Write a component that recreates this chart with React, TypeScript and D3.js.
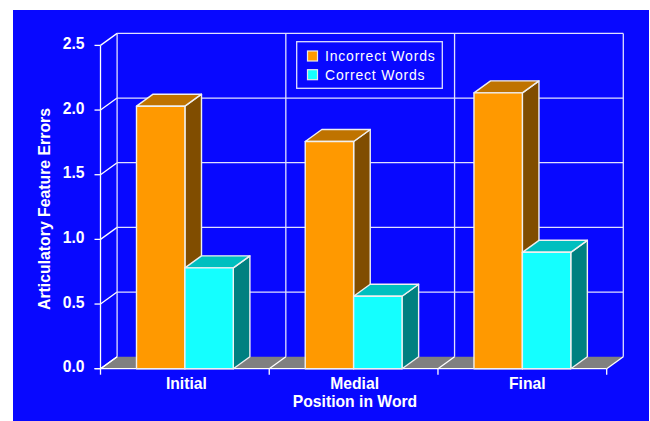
import React from "react";
import * as d3 from "d3";

const categories = ["Initial", "Medial", "Final"];
const categoryLabelShift = [1.5, 1, 5];
const seriesNames = ["Incorrect Words", "Correct Words"];
const incorrectWords = [2.03, 1.757, 2.133];
const correctWords = [0.78, 0.56, 0.9];
const yTicks = [0, 0.5, 1, 1.5, 2, 2.5];

const frontColors = ["#ff9900", "#14ffff"];
const topColors = ["#bf7300", "#00bfbf"];
const sideColors = ["#804d00", "#008080"];
const BLUE = "#0808ff";
const LINE = "#e0e0ff";

const DX = 16.6;
const DY = -12;

const x = d3.scaleBand<string>().domain(categories).range([100.5, 606.7]).paddingInner(0).paddingOuter(0);
const y = d3.scaleLinear().domain([0, 2.5]).range([368.7, 45.4]);
const barX = d3.scaleBand<string>().domain(seriesNames).range([36, 132.8]);

const font = "'Liberation Sans', Arial, Helvetica, sans-serif";
const poly = (pts: [number, number][]) => pts.map((p) => p.join(",")).join(" ");

export default function App() {
  const [x0, x1] = x.range();
  const boundaries = [...categories.map((c) => x(c) as number), x1];
  const y0 = y(0);
  return (
    <svg width={650} height={421} style={{ position: "absolute", left: 0, top: 0 }}>
      <rect x={13} y={10} width={636} height={411} fill={BLUE} />

      {/* floor */}
      <polygon points={poly([[x0, y0], [x1, y0], [x1 + DX, y0 + DY], [x0 + DX, y0 + DY]])} fill="#808080" />

      {/* back wall grid and side wall ticks */}
      {yTicks.map((t) => (
        <g key={t} stroke={LINE} fill="none" strokeWidth={1.3}>
          {t > 0 && <line x1={x0 + DX} x2={x1 + DX} y1={y(t) + DY} y2={y(t) + DY} />}
          <line x1={x0} x2={x0 + DX} y1={y(t)} y2={y(t) + DY} stroke="#fff" />
          <line x1={x0 - 6} x2={x0} y1={y(t)} y2={y(t)} stroke="#fff" />
        </g>
      ))}
      {boundaries.map((b, i) => (
        <g key={i} fill="none" strokeWidth={1.3}>
          <line x1={b + DX} x2={b + DX} y1={y(2.5) + DY} y2={y0 + DY} stroke={LINE} />
          <line x1={b} x2={b + DX} y1={y0} y2={y0 + DY} stroke="#fff" />
          <line x1={b} x2={b} y1={y0} y2={y0 + 6} stroke="#fff" />
        </g>
      ))}
      <line x1={x0} x2={x0} y1={y(2.5)} y2={y0} stroke="#fff" strokeWidth={1.3} />
      <line x1={x0 - 6} x2={x1} y1={y0} y2={y0} stroke="#fff" strokeWidth={1.3} />

      {/* bars, drawn left to right so neighbours overlap correctly */}
      {categories.map((c, ci) =>
        [incorrectWords[ci], correctWords[ci]].map((v, si) => {
          const left = (x(c) as number) + (barX(seriesNames[si]) as number);
          const right = left + barX.bandwidth();
          const top = y(v);
          return (
            <g key={c + si} stroke="#f0f0f0" strokeWidth={1.4} strokeLinejoin="round">
              <polygon points={poly([[right, top], [right + DX, top + DY], [right + DX, y0 + DY], [right, y0]])} fill={sideColors[si]} />
              <polygon points={poly([[left, top], [left + DX, top + DY], [right + DX, top + DY], [right, top]])} fill={topColors[si]} />
              <rect x={left} y={top} width={right - left} height={y0 - top} fill={frontColors[si]} />
            </g>
          );
        })
      )}

      {/* value axis labels */}
      {yTicks.map((t) => (
        <text key={t} x={84.5} y={y(t) + 3.6} textAnchor="end" fill="#fff" fontFamily={font} fontWeight="bold" fontSize={15.7}>
          {d3.format(".1f")(t)}
        </text>
      ))}
      <text transform="translate(50,209) rotate(-90)" textAnchor="middle" fill="#fff" fontFamily={font} fontWeight="bold" fontSize={15.8}>
        Articulatory Feature Errors
      </text>

      {/* category labels */}
      {categories.map((c, i) => (
        <text key={c} x={(x(c) as number) + x.bandwidth() / 2 + categoryLabelShift[i]} y={389.3} textAnchor="middle" fill="#fff" fontFamily={font} fontWeight="bold" fontSize={15.7}>
          {c}
        </text>
      ))}
      <text x={355} y={407.3} textAnchor="middle" fill="#fff" fontFamily={font} fontWeight="bold" fontSize={15.7}>
        Position in Word
      </text>

      {/* legend */}
      <rect x={296.7} y={41.7} width={145.6} height={46.6} fill={BLUE} stroke={LINE} strokeWidth={1.3} />
      {seriesNames.map((s, i) => (
        <g key={s}>
          <rect x={307.5} y={51 + i * 18.7} width={10} height={10} fill={frontColors[i]} stroke="#e8e8e8" strokeWidth={1.2} />
          <text x={325} y={61.2 + i * 18.7} fill="#fff" fontFamily={font} fontSize={14} letterSpacing={0.8}>
            {s}
          </text>
        </g>
      ))}
    </svg>
  );
}
